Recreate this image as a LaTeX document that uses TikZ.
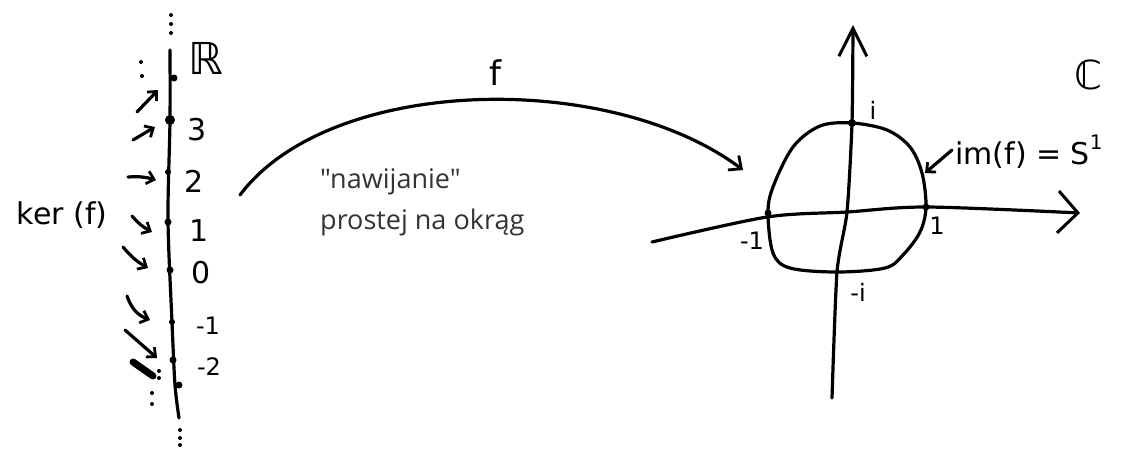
\documentclass[tikz,border=0pt]{standalone}
\usepackage{fontspec}
\setmainfont{DejaVu Sans}
\newfontfamily\typed{Open Sans}
\usetikzlibrary{arrows.meta}
\begin{document}
\begin{tikzpicture}[x=1pt,y=-1pt,
  stroke/.style={line width=3.2pt,line cap=round,line join=round},
  hand/.style={font=\fontsize{30}{34}\selectfont,inner sep=0pt},
  handsmall/.style={font=\fontsize{24}{28}\selectfont,inner sep=0pt},
  typedtext/.style={font=\typed\fontsize{27}{32}\selectfont,text=black!80,inner sep=0pt,anchor=west},
  pt/.style={circle,fill,inner sep=0pt,minimum size=8pt},
  dotm/.style={circle,fill,inner sep=0pt,minimum size=4pt},
  tip/.style={-{Straight Barb[length=7pt,width=13pt,line width=2.8pt]}}]
\useasboundingbox (0,0) rectangle (1126,448);

% ---------- real line ----------
\coordinate (rtop) at (170,50);
\coordinate (rbot) at (179,418);
\draw[stroke] plot[smooth] coordinates {(170,50) (170,120) (168,220) (172,322) (175,385) (179,418)};
\node[dotm] (t1) at (171,15) {};
\node[dotm] (t2) at (171,24) {};
\node[dotm] (t3) at (171,33) {};
\node[dotm] (b1) at (180,430) {};
\node[dotm] (b2) at (180,438) {};
\node[dotm] (b3) at (180,445) {};

\node[pt,minimum size=7pt] (p4) at (174,78) {};
\node[pt,minimum size=10pt] (p3) at (170,120) {};
\node[pt,minimum size=6pt] (p2) at (168,172) {};
\node[pt,minimum size=7pt] (p1) at (168,222) {};
\node[pt,minimum size=7pt] (p0) at (170,270) {};
\node[pt,minimum size=6pt] (pm1) at (172,322) {};
\node[pt,minimum size=7pt] (pm2) at (173,360) {};
\node[pt,minimum size=7pt] (pm3) at (179,385) {};

\node[font=\fontsize{44}{48}\selectfont,inner sep=0pt] (R) at (206,58) {ℝ};
\node[hand] (l3) at (197,130) {3};
\node[hand] (l2) at (194,181) {2};
\node[hand] (l1) at (199,231) {1};
\node[hand] (l0) at (201,273) {0};
\node[handsmall] (lm1) at (208,326) {-1};
\node[handsmall] (lm2) at (209,367) {-2};

\node[hand] (ker) at (62,215) {ker (f)};

% small arrows of the kernel
\node[dotm] (k1) at (141,62) {};
\node[dotm] (k2) at (142,76) {};
\coordinate (a1s) at (137,112); \coordinate (a1e) at (158,90);
\coordinate (a2s) at (133,140); \coordinate (a2e) at (155,127);
\coordinate (a3s) at (128,177); \coordinate (a3e) at (156,180);
\coordinate (a4s) at (132,216); \coordinate (a4e) at (152,232);
\coordinate (a5s) at (123,247); \coordinate (a5e) at (148,268);
\coordinate (a6s) at (127,296); \coordinate (a6e) at (150,320);
\coordinate (a7s) at (125,330); \coordinate (a7e) at (157,358);
\draw[stroke,tip] (a1s) -- (a1e);
\draw[stroke,tip] (a2s) -- (a2e);
\draw[stroke,tip] (a3s) to[bend left=10] (a3e);
\draw[stroke,tip] (a4s) to[bend right=10] (a4e);
\draw[stroke,tip] (a5s) to[bend right=10] (a5e);
\draw[stroke,tip] (a6s) to[bend right=25] (a6e);
\draw[stroke,tip] (a7s) -- (a7e);
\coordinate (bls) at (133,362); \coordinate (ble) at (153,376);
\draw[line width=7pt,line cap=round] (bls) -- (ble);
\node[dotm] (k3) at (159,371) {};
\node[dotm] (k4) at (159,378) {};
\node[dotm] (k5) at (152,393) {};
\node[dotm] (k6) at (152,404) {};

% ---------- map f ----------
\coordinate (fs) at (240,195);
\coordinate (fe) at (743,170);
\draw[stroke,-{Straight Barb[length=10pt,width=18pt,line width=2.8pt]}] (fs) .. controls (330,75) and (610,70) .. (fe);
\node[font=\fontsize{34}{38}\selectfont,inner sep=0pt] (f) at (495,73) {f};
\node[typedtext] (t1txt) at (320,182) {"nawijanie"};
\node[typedtext] (t2txt) at (320,222) {prostej na okrąg};

% ---------- complex plane ----------
\coordinate (h0) at (652,242);
\coordinate (h1) at (1080,213);
\draw[stroke,-{Straight Barb[length=20pt,width=42pt,line width=3pt]}] plot[smooth,tension=0.5] coordinates {(652,242) (767,217) (847,212) (927,207) (1080,213)};
\coordinate (v0) at (832,398);
\coordinate (v1) at (853,25);
\draw[stroke,-{Straight Barb[length=28pt,width=28pt,line width=3pt]}] plot[smooth,tension=0.4] coordinates {(832,398) (837,272) (847,212) (852,123) (853,25)};

\draw[stroke] plot[smooth cycle,tension=0.55] coordinates {(852,123) (887,130) (910,147) (922,173) (926,207) (920,232) (903,255) (885,268) (837,272) (790,268) (773,253) (768,213) (773,187) (793,147) (820,126)};

\node[pt] (ci) at (852,123) {};
\node[pt,minimum size=7pt] (cm1) at (768,213) {};
\node[pt,minimum size=7pt] (c1) at (926,207) {};

\node[handsmall] (li) at (873,110) {i};
\node[handsmall] (lc1) at (937,226) {1};
\node[handsmall] (lcm1) at (752,241) {-1};
\node[handsmall] (lcmi) at (858,292) {-i};

\node[font=\fontsize{40}{44}\selectfont,inner sep=0pt] (C) at (1088,75) {ℂ};
\node[hand,anchor=west] (im) at (955,152) {im(f) = S\raisebox{15pt}{\fontsize{20}{22}\selectfont 1}};
\coordinate (ims) at (952,150);
\coordinate (ime) at (925,173);
\draw[stroke,tip] (ims) -- (ime);
\end{tikzpicture}
\end{document}
